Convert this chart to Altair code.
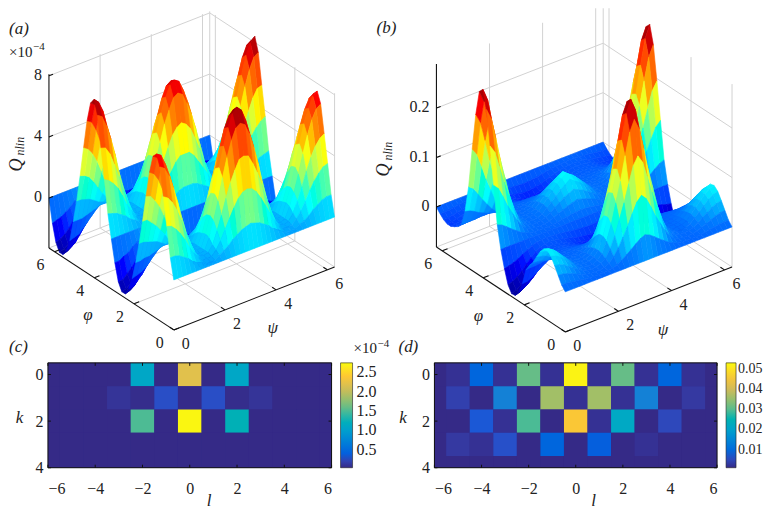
import math
import altair as alt
import pandas as pd

# ---------- panel (a): Q_nlin x 1e4; rows phi = 0..2pi (37), columns psi = 0..pi (19), mirrored about psi = pi
QA_HALF = [
 [0]*19,
 [1.3,1.3,1.2,1.0,.8,.5,.3,.2,0,0,0,.2,.4,.6,.9,1.1,1.3,1.4,1.5],
 [3.2,3.1,2.8,2.4,1.9,1.3,.8,.4,.1,.1,.1,.4,.9,1.5,2.1,2.7,3.2,3.5,3.6],
 [5.0,4.8,4.4,3.8,3.0,2.1,1.3,.6,.2,.1,.2,.6,1.4,2.3,3.3,4.2,4.9,5.5,5.6],
 [6.8,6.6,6.0,5.1,4.0,2.8,1.7,.9,.2,.1,.2,.9,1.9,3.1,4.5,5.7,6.7,7.4,7.6],
 [7.5,7.3,6.6,5.7,4.5,3.1,1.9,1.0,.2,.2,.2,1.0,2.1,3.4,5.0,6.3,7.4,8.2,8.5],
 [7.2,7.0,6.4,5.5,4.3,3.0,1.8,.9,.2,.2,.2,.9,2.0,3.3,4.8,6.1,7.2,7.9,8.2],
 [6.0,5.8,5.3,4.5,3.6,2.5,1.5,.8,.2,.1,.2,.8,1.7,2.8,4.0,5.1,6.0,6.6,6.8],
 [4.3,4.2,3.8,3.3,2.6,1.8,1.1,.6,.1,.1,.1,.6,1.2,2.0,2.9,3.6,4.3,4.7,4.9],
 [2.5,2.5,2.2,1.9,1.5,1.1,.6,.3,.1,.1,.1,.3,.7,1.2,1.7,2.1,2.5,2.8,2.9],
 [.9,.9,.8,.7,.6,.4,.2,.1,0,0,0,.1,.3,.4,.6,.8,.9,1.0,1.1],
 [-.5,-.5,-.4,-.4,-.3,-.2,-.1,-.1,0,0,0,-.1,-.1,-.2,-.3,-.4,-.5,-.5,-.5],
 [-1.7,-1.6,-1.5,-1.3,-1.0,-.7,-.4,-.2,-.1,0,-.1,-.2,-.5,-.8,-1.1,-1.4,-1.7,-1.9,-1.9],
 [-2.5,-2.5,-2.2,-1.9,-1.5,-1.1,-.6,-.3,-.1,-.1,-.1,-.3,-.7,-1.2,-1.7,-2.1,-2.5,-2.8,-2.9],
 [-3.0,-2.9,-2.7,-2.3,-1.8,-1.2,-.8,-.4,-.1,-.1,-.1,-.4,-.8,-1.4,-2.0,-2.5,-3.0,-3.2,-3.2],
 [-3.0,-2.9,-2.7,-2.3,-1.8,-1.2,-.8,-.4,-.1,-.1,-.1,-.4,-.8,-1.4,-2.0,-2.5,-3.0,-3.2,-3.2],
 [-2.5,-2.5,-2.2,-1.9,-1.5,-1.1,-.6,-.3,-.1,-.1,-.1,-.3,-.7,-1.2,-1.7,-2.1,-2.5,-2.8,-2.9],
 [-1.4,-1.4,-1.2,-1.1,-.8,-.6,-.4,-.2,0,0,0,-.2,-.4,-.6,-.9,-1.2,-1.4,-1.5,-1.6],
 [0]*19,
 [1.5,1.4,1.3,1.1,.9,.6,.4,.2,0,0,0,.2,.3,.6,.8,1.0,1.2,1.3,1.3],
 [3.6,3.4,3.1,2.7,2.1,1.4,.9,.4,.1,.1,.1,.4,.8,1.4,1.9,2.4,2.9,3.2,3.2],
 [5.5,5.4,4.9,4.1,3.2,2.2,1.4,.6,.2,.1,.2,.6,1.3,2.1,3.0,3.8,4.5,4.9,5.1],
 [7.5,7.3,6.6,5.6,4.4,3.0,1.9,.9,.2,.1,.2,.9,1.7,2.9,4.1,5.2,6.0,6.7,6.9],
 [8.4,8.1,7.4,6.2,4.9,3.4,2.1,1.0,.2,.2,.2,1.0,1.9,3.2,4.6,5.8,6.7,7.4,7.6],
 [8.0,7.8,7.1,6.0,4.7,3.2,2.0,.9,.2,.2,.2,.9,1.8,3.1,4.4,5.5,6.5,7.2,7.4],
 [6.7,6.5,5.9,5.0,3.9,2.7,1.7,.8,.2,.1,.2,.8,1.5,2.6,3.6,4.6,5.4,6.0,6.1],
 [4.8,4.6,4.2,3.6,2.8,1.9,1.2,.6,.1,.1,.1,.6,1.1,1.8,2.6,3.3,3.9,4.3,4.4],
 [2.8,2.7,2.5,2.1,1.6,1.1,.7,.3,.1,.1,.1,.3,.6,1.1,1.5,1.9,2.3,2.5,2.6],
 [1.0,1.0,.9,.8,.6,.4,.3,.1,0,0,0,.1,.2,.4,.6,.7,.8,.9,1.0],
 [-.5,-.5,-.5,-.4,-.3,-.2,-.1,-.1,0,0,0,-.1,-.1,-.2,-.3,-.4,-.4,-.5,-.5],
 [-1.9,-1.8,-1.7,-1.4,-1.1,-.8,-.5,-.2,-.1,0,-.1,-.2,-.4,-.7,-1.0,-1.3,-1.5,-1.7,-1.7],
 [-2.7,-2.6,-2.4,-2.0,-1.6,-1.1,-.7,-.3,-.1,-.1,-.1,-.3,-.6,-1.0,-1.5,-1.9,-2.2,-2.4,-2.5],
 [-3.1,-3.0,-2.8,-2.3,-1.8,-1.3,-.8,-.4,-.1,-.1,-.1,-.4,-.7,-1.2,-1.7,-2.2,-2.5,-2.8,-2.9],
 [-3.1,-3.0,-2.8,-2.3,-1.8,-1.3,-.8,-.4,-.1,-.1,-.1,-.4,-.7,-1.2,-1.7,-2.2,-2.5,-2.8,-2.9],
 [-2.6,-2.5,-2.3,-2.0,-1.5,-1.1,-.7,-.3,-.1,-.1,-.1,-.3,-.6,-1.0,-1.4,-1.8,-2.1,-2.3,-2.4],
 [-1.5,-1.4,-1.3,-1.1,-.9,-.6,-.4,-.2,0,0,0,-.2,-.3,-.6,-.8,-1.0,-1.2,-1.3,-1.3],
 [0]*19,
]

# ---------- panel (b): Q_nlin x 1e3, same grid
QB_HALF = [
 [0]*19,
 [9,9,8,6,5,3,2,1,1,1,2,3,7,12,19,26,34,41,45],
 [24,23,20,16,12,8,4,2,2,2,4,8,18,32,50,68,90,110,120],
 [39,37,33,26,20,13,7,4,3,3,7,13,29,52,81,111,146,179,195],
 [53,50,44,35,26,18,9,5,4,4,9,18,40,70,110,150,198,242,264],
 [60,57,50,40,30,20,10,6,5,5,10,20,45,80,125,170,225,275,300],
 [58,55,49,39,29,19,10,6,5,5,10,19,44,78,121,165,218,267,291],
 [48,46,40,32,24,16,8,5,4,4,8,16,36,64,100,136,180,220,240],
 [33,31,28,22,17,11,6,3,3,3,6,11,25,44,69,94,124,151,165],
 [17,16,14,11,8,6,3,2,1,1,3,6,13,22,35,48,63,77,84],
 [6,6,5,4,3,2,1,1,1,1,1,2,5,8,13,17,23,28,30],
 [-8,-7,-7,-6,-4,-3,-2,-1,-1,-1,-1,-1,-2,-2,-2,-3,-3,-3,-3],
 [-41,-40,-36,-30,-23,-17,-11,-8,-6,-4,-6,-7,-8,-10,-12,-14,-15,-16,-17],
 [-62,-59,-53,-45,-34,-25,-16,-11,-8,-7,-8,-10,-12,-15,-18,-21,-22,-24,-25],
 [-74,-71,-64,-54,-41,-29,-20,-14,-10,-8,-10,-12,-15,-18,-22,-25,-26,-28,-29],
 [-75,-72,-65,-55,-42,-30,-20,-14,-10,-8,-10,-12,-15,-18,-22,-25,-27,-29,-30],
 [-62,-59,-53,-45,-34,-25,-16,-11,-8,-7,-8,-10,-12,-15,-18,-21,-22,-24,-25],
 [-34,-32,-29,-25,-19,-14,-9,-6,-5,-4,-5,-5,-7,-8,-10,-11,-12,-13,-14],
 [0]*19,
 [45,41,34,26,19,12,7,3,2,1,1,1,2,3,5,6,8,9,10],
 [120,110,90,68,50,32,18,8,4,2,2,2,4,8,12,16,20,23,26],
 [195,179,146,111,81,52,29,13,7,3,3,4,7,13,20,26,33,37,42],
 [264,242,198,150,110,70,40,18,9,4,4,5,9,18,26,35,44,50,57],
 [300,275,225,170,125,80,45,20,10,5,5,6,10,20,30,40,50,57,65],
 [291,267,218,165,121,78,44,19,10,5,5,6,10,19,29,39,49,55,63],
 [240,220,180,136,100,64,36,16,8,4,4,5,8,16,24,32,40,46,52],
 [165,151,124,94,69,44,25,11,6,3,3,3,6,11,17,22,28,31,36],
 [84,77,63,48,35,22,13,6,3,1,1,2,3,6,8,11,14,16,18],
 [30,28,23,17,13,8,5,2,1,1,1,1,1,2,3,4,5,6,7],
 [-2,-2,-2,-2,-1,-1,-1,-1,-1,-1,-1,-1,-1,-2,-2,-2,-3,-3,-3],
 [-11,-10,-9,-8,-7,-4,-3,-3,-3,-3,-4,-5,-7,-9,-11,-13,-15,-16,-17],
 [-16,-16,-14,-12,-10,-7,-5,-4,-4,-4,-6,-7,-10,-13,-16,-20,-22,-24,-25],
 [-20,-19,-17,-15,-12,-8,-6,-5,-5,-5,-7,-9,-12,-16,-20,-24,-26,-28,-29],
 [-20,-19,-17,-15,-12,-8,-6,-5,-5,-5,-7,-9,-12,-16,-20,-24,-27,-29,-30],
 [-16,-16,-14,-12,-10,-7,-5,-4,-4,-4,-6,-7,-10,-13,-16,-20,-22,-24,-25],
 [-9,-9,-8,-7,-5,-4,-3,-2,-2,-2,-3,-4,-5,-7,-9,-11,-12,-13,-14],
 [0]*19,
]

# ---------- heat maps: rows k = 0..4, columns l = -6..6
L_VALUES = list(range(-6, 7))
K_VALUES = [0, 1, 2, 3, 4]
HEAT_C = [
 [.03,.03,.03,.03,1.1,.03,2.2,.03,1.1,.03,.03,.03,.03],
 [.03,.03,.03,.1,.05,.28,.04,.28,.05,.1,.03,.03,.03],
 [.03,.03,.03,.03,1.5,.03,2.72,.03,1.25,.03,.03,.03,.03],
 [.03]*13,
 [.03]*13,
]
HEAT_D = [
 [.001,.002,.009,.002,.031,.002,.052,.002,.031,.002,.009,.002,.001],
 [.001,.004,.001,.014,.001,.036,.002,.036,.002,.014,.001,.003,.001],
 [.001,.001,.007,.002,.029,.001,.046,.002,.022,.001,.005,.001,.001],
 [.001,.003,.002,.006,.001,.009,.001,.008,.001,.002,.001,.001,.001],
 [.001]*13,
]
L_TICKS = [-6, -4, -2, 0, 2, 4, 6]
K_TICKS = [0, 2, 4]
C_LEGEND = [0.5, 1.0, 1.5, 2.0, 2.5]
D_LEGEND = [0.01, 0.02, 0.03, 0.04, 0.05]
AXIS_TICKS = [2, 4, 6]
AXIS_LABELS = [0, 2, 4, 6]
Z_A = [0, 4, 8]
Z_B = [0, 0.1, 0.2]

JET = ['#00008f', '#0000ff', '#007fff', '#00ffff', '#7fff7f', '#ffff00', '#ff7f00', '#ff0000', '#7f0000']
PARULA = ['#352a87', '#0f5cdd', '#1481d6', '#06a4ca', '#2eb7a4', '#87bf77', '#d1bb59', '#fec832', '#f9fb0e']
FONT = 'Liberation Serif'
INK = '#222222'
GRID = '#d2d2d2'
TWO_PI = 2 * math.pi


def lin(lo, hi, n):
    return [lo + (hi - lo) * t / (n - 1) for t in range(n)]


def full(half):
    return [row + row[-2::-1] for row in half]


class Box:
    def __init__(self, x0, y0, psi, phi, kz, zmin, zmax):
        self.x0, self.y0, self.psi, self.phi = x0, y0, psi, phi
        self.kz, self.zmin, self.zmax = kz, zmin, zmax

    def xy(self, p, f, z):
        x = self.x0 + p / TWO_PI * self.psi[0] + f / TWO_PI * self.phi[0]
        y = self.y0 + p / TWO_PI * self.psi[1] + f / TWO_PI * self.phi[1] - (z - self.zmin) * self.kz
        return x, y


def surface(box, grid):
    rows = []
    n = len(grid) - 1
    step = TWO_PI / n
    qid = 0
    for i in range(n - 1, -1, -1):
        for j in range(n - 1, -1, -1):
            corners = [(i, j), (i, j + 1), (i + 1, j + 1), (i + 1, j)]
            val = sum(grid[a][b] for a, b in corners) / 4
            for v, (a, b) in enumerate(corners):
                x, y = box.xy(b * step, a * step, grid[a][b])
                rows.append({'quad': f'q{qid}', 'v': v, 'x': round(x, 2), 'y': round(y, 2), 'val': round(val, 4)})
            qid += 1
    return rows


def seg_rows(box, segs):
    rows = []
    for a, b in segs:
        x, y = box.xy(*a)
        x2, y2 = box.xy(*b)
        rows.append({'x': x, 'y': y, 'x2': x2, 'y2': y2})
    return rows


def panel3d(box, grid, zticks, domain_x, width, color_dom, texts):
    sx = alt.Scale(domain=domain_x, nice=False, zero=False)
    sy = alt.Scale(domain=[356, 8], nice=False, zero=False)
    X = alt.X('x:Q', scale=sx, axis=None)
    Y = alt.Y('y:Q', scale=sy, axis=None)
    zl, zh = box.zmin, box.zmax
    walls = []
    for z in zticks:
        walls.append(((0, TWO_PI, z), (TWO_PI, TWO_PI, z)))
        walls.append(((TWO_PI, TWO_PI, z), (TWO_PI, 0, z)))
    for t in AXIS_TICKS:
        walls.append(((t, TWO_PI, zl), (t, TWO_PI, zh)))
        walls.append(((TWO_PI, t, zl), (TWO_PI, t, zh)))
        walls.append(((t, 0, zl), (t, TWO_PI, zl)))
        walls.append(((0, t, zl), (TWO_PI, t, zl)))
    walls.append(((TWO_PI, TWO_PI, zl), (TWO_PI, TWO_PI, zh)))
    walls.append(((TWO_PI, 0, zl), (TWO_PI, 0, zh)))
    walls.append(((0, TWO_PI, zl), (TWO_PI, TWO_PI, zl)))
    walls.append(((TWO_PI, TWO_PI, zl), (TWO_PI, 0, zl)))

    axes = [((0, TWO_PI, zl), (0, TWO_PI, zh)),
            ((0, 0, zl), (0, TWO_PI, zl)),
            ((0, 0, zl), (TWO_PI, 0, zl))]
    for t in AXIS_LABELS:
        axes.append(((0, t, zl), (0.2, t, zl)))
        axes.append(((t, 0, zl), (t, 0.2, zl)))
    for z in zticks:
        axes.append(((0, TWO_PI, z), (0.16, TWO_PI, z)))

    def rules(segs, color, w):
        return alt.Chart(pd.DataFrame(seg_rows(box, segs))).mark_rule(
            color=color, strokeWidth=w, clip=True
        ).encode(x=X, y=Y, x2='x2:Q', y2='y2:Q')

    cscale = alt.Scale(domain=lin(color_dom[0], color_dom[1], 9), range=JET, clamp=True)
    surf = alt.Chart(pd.DataFrame(surface(box, grid))).mark_line(
        strokeWidth=0.6, interpolate='linear-closed'
    ).encode(
        x=X, y=Y, detail='quad:N', order='v:Q',
        fill=alt.Fill('val:Q', scale=cscale, legend=None),
        stroke=alt.Stroke('val:Q', scale=cscale, legend=None),
    )
    layers = [rules(walls, GRID, 1), surf, rules(axes, '#111111', 1.1)]
    for t in texts:
        df = pd.DataFrame([{'x': t['x'], 'y': t['y'], 't': t['s']}])
        layers.append(alt.Chart(df).mark_text(
            font=FONT, fontSize=t.get('size', 16), fontStyle=t.get('style', 'normal'),
            color=INK, angle=t.get('angle', 0), align=t.get('align', 'center'), baseline='middle'
        ).encode(x=X, y=Y, text='t:N'))
    return alt.layer(*layers).properties(width=width, height=348)


def heat(values, dom, legend_vals, legend_fmt, width, offset, thick, lab_size, lab_off, title_x_l, title_x_k):
    rows = []
    for k, row in zip(K_VALUES, values):
        for l, v in zip(L_VALUES, row):
            rows.append({'x0': l - .5, 'x1': l + .5, 'y0': k - .5, 'y1': k + .5, 'v': v})
    h = 105
    sx = alt.Scale(domain=[-6, 6], nice=False, zero=False)
    sy = alt.Scale(domain=[4, -0.5], nice=False, zero=False)
    cscale = alt.Scale(domain=lin(dom[0], dom[1], 9), range=PARULA)
    X = alt.X('x0:Q', scale=sx, axis=alt.Axis(
        values=L_TICKS, grid=False, domain=False, ticks=False, labelFont=FONT, labelFontSize=16,
        labelColor=INK, labelPadding=13, title='l', titleFont=FONT, titleFontSize=17,
        titleBaseline='middle', titleFontStyle='italic', titleFontWeight='normal', titleColor=INK,
        titleX=title_x_l, titleY=33))
    Y = alt.Y('y0:Q', scale=sy, axis=alt.Axis(
        values=K_TICKS, grid=False, domain=False, ticks=False, labelFont=FONT, labelFontSize=16,
        labelColor=INK, labelPadding=5, title='k', titleFont=FONT, titleFontSize=17, titleAngle=0,
        titleBaseline='middle', titleFontStyle='italic', titleFontWeight='normal', titleColor=INK,
        titleX=title_x_k, titleY=55))
    base = alt.Chart(pd.DataFrame({'a': [0]})).mark_rect(color=PARULA[0]).encode(
        x=alt.value(0), x2=alt.value(width), y=alt.value(0), y2=alt.value(h))
    rect = alt.Chart(pd.DataFrame(rows)).mark_rect(clip=True).encode(
        x=X, x2='x1:Q', y=Y, y2='y1:Q',
        color=alt.Color('v:Q', scale=cscale, legend=alt.Legend(
            title=None, type='gradient', gradientLength=h, gradientThickness=thick, values=legend_vals,
            format=legend_fmt, labelFont=FONT, labelFontSize=lab_size, labelColor=INK, offset=offset,
            padding=0, labelOffset=lab_off, gradientStrokeColor=INK, gradientStrokeWidth=0.6)),
    )
    tx = pd.DataFrame({'x0': L_TICKS})
    ty = pd.DataFrame({'y0': K_TICKS})
    tick = lambda d: alt.Chart(d).mark_rule(color='#111111', strokeWidth=1)
    layers = [base, rect,
              tick(tx).encode(x=X, y=alt.value(0), y2=alt.value(3)),
              tick(tx).encode(x=X, y=alt.value(h - 3), y2=alt.value(h)),
              tick(ty).encode(y=Y, x=alt.value(0), x2=alt.value(3)),
              tick(ty).encode(y=Y, x=alt.value(width - 3), x2=alt.value(width)),
              alt.Chart(pd.DataFrame({'a': [0]})).mark_rect(filled=False, stroke='#111111', strokeWidth=1).encode(
                  x=alt.value(0), x2=alt.value(width), y=alt.value(0), y2=alt.value(h))]
    return alt.layer(*layers).properties(width=width, height=h)


def label_texts(box, zticks, zfmt, phi_off, psi_off):
    out = []
    for t in AXIS_LABELS:
        x, y = box.xy(0, t, box.zmin)
        out.append({'x': x + phi_off[0], 'y': y + phi_off[1], 's': str(t)})
        x, y = box.xy(t, 0, box.zmin)
        out.append({'x': x + psi_off[0], 'y': y + psi_off[1], 's': str(t)})
    for z in zticks:
        x, y = box.xy(0, TWO_PI, z)
        out.append({'x': x - 7, 'y': y - 1, 's': zfmt(z), 'align': 'right'})
    return out


box_a = Box(173, 330, (161, -63), (-125, -82), 15.3, -3.27, 8.1)
box_b = Box(565, 332, (167, -65), (-129, -85), 495, -0.081, 0.289)

texts_a = label_texts(box_a, Z_A, str, (-14, 13), (12, 14)) + [
    {'x': 87, 'y': 315, 's': 'φ', 'style': 'italic', 'size': 17},
    {'x': 272, 'y': 328, 's': 'ψ', 'style': 'italic', 'size': 17},
    {'x': 8, 'y': 29, 's': '(a)', 'style': 'italic', 'align': 'left', 'size': 17},
    {'x': 8, 'y': 52, 's': '×10', 'align': 'left', 'size': 15},
    {'x': 32, 'y': 47, 's': '−4', 'align': 'left', 'size': 11},
    {'x': 16, 'y': 165, 's': 'Q', 'style': 'italic', 'angle': 270, 'size': 18},
    {'x': 19, 'y': 146, 's': 'nlin', 'style': 'italic', 'angle': 270, 'size': 12},
    {'x': 8, 'y': 347, 's': '(c)', 'style': 'italic', 'align': 'left', 'size': 17},
    {'x': 353, 'y': 348, 's': '×10', 'align': 'left', 'size': 15},
    {'x': 377, 'y': 344, 's': '−4', 'align': 'left', 'size': 11},
]
texts_b = label_texts(box_b, Z_B, lambda z: '0' if z == 0 else f'{z:.1f}', (-14, 13), (12, 14)) + [
    {'x': 478, 'y': 316, 's': 'φ', 'style': 'italic', 'size': 17},
    {'x': 663, 'y': 330, 's': 'ψ', 'style': 'italic', 'size': 17},
    {'x': 376, 'y': 28, 's': '(b)', 'style': 'italic', 'align': 'left', 'size': 17},
    {'x': 384, 'y': 170, 's': 'Q', 'style': 'italic', 'angle': 270, 'size': 18},
    {'x': 388, 'y': 151, 's': 'nlin', 'style': 'italic', 'angle': 270, 'size': 12},
    {'x': 398, 'y': 347, 's': '(d)', 'style': 'italic', 'align': 'left', 'size': 17},
]

pa = panel3d(box_a, full(QA_HALF), Z_A, [47, 427], 380, (-3.3, 8.5), texts_a)
pb = panel3d(box_b, [[v / 1000 for v in r] for r in full(QB_HALF)], Z_B, [434, 762], 328, (-0.08, 0.30), texts_b)
pc = heat(HEAT_C, (0.03, 2.75), C_LEGEND, '.1f', 284, 9, 12, 16, 4, 161, -29)
pd_ = heat(HEAT_D, (0.001, 0.053), D_LEGEND, '.2f', 283, 9, 10, 14, 2, 159, -32)

chart = alt.concat(pa, pb, pc, pd_, columns=2, spacing=7, bounds='flush').resolve_scale(
    color='independent', fill='independent', stroke='independent'
).properties(padding=0, background='white').configure_view(stroke=None)

chart.save("out.html", embed_options={"renderer": "svg", "actions": False})
